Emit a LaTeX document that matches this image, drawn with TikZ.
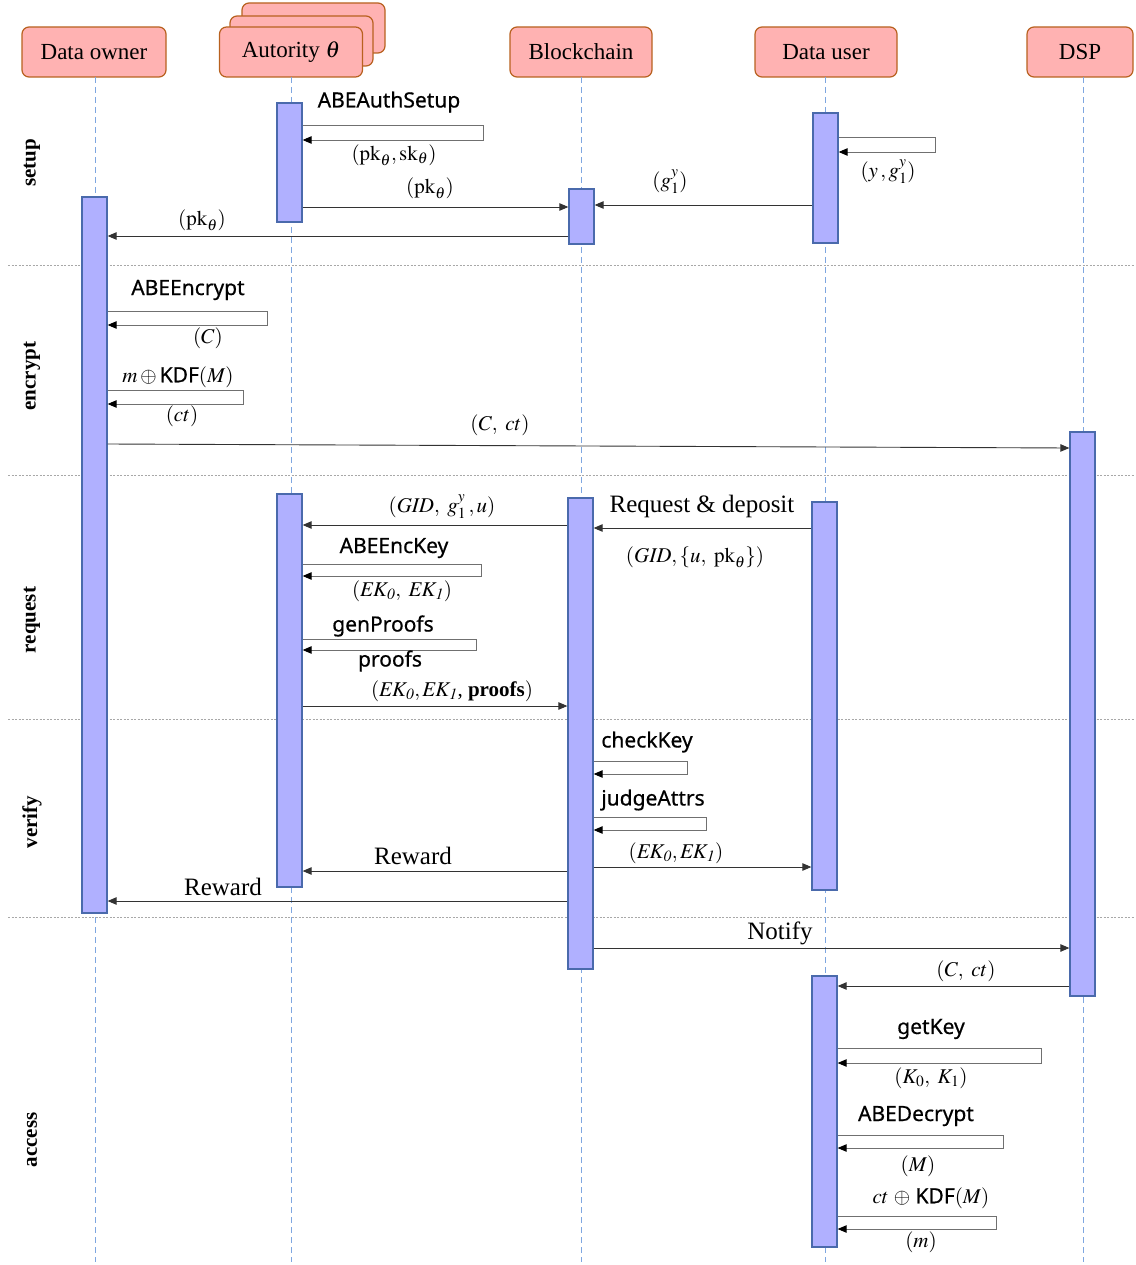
\documentclass[tikz,border=0pt]{standalone}
\usepackage{mathptmx}
\usepackage[no-math]{fontspec}
\setmainfont{Liberation Serif}
\newfontfamily\sanslbl{Noto Sans}[FakeBold=0.6]
\usetikzlibrary{arrows.meta}
\definecolor{hdrf}{HTML}{FFB2B2}
\definecolor{hdrb}{HTML}{B8611F}
\definecolor{actf}{HTML}{B0B0FF}
\definecolor{actb}{HTML}{4A6AAC}
\definecolor{lifec}{HTML}{7EA6E0}
\definecolor{msgc}{HTML}{333333}
\definecolor{loopc}{HTML}{707070}
\definecolor{sepc}{HTML}{A8A8A8}
\newcommand\kdf{{\sanslbl KDF}}
\begin{document}
\begin{tikzpicture}[x=1pt,y=-1pt,
  hdr/.style={draw=hdrb, fill=hdrf, rounded corners=7pt, line width=1.2pt,
    minimum height=50pt, inner sep=0pt, font=\fontsize{23}{27}\selectfont},
  act/.style={draw=actb, fill=actf, line width=1.3pt, minimum width=25pt, inner sep=0pt},
  life/.style={draw=lifec, line width=0.9pt, dash pattern=on 6pt off 4pt},
  sepl/.style={draw=sepc, line width=0.8pt, dash pattern=on 2pt off 1.5pt},
  msg/.style={draw=msgc, line width=0.9pt, -{Triangle[length=9pt,width=7.5pt]}},
  loopl/.style={draw=loopc, line width=0.9pt, -{Triangle[length=9pt,width=7.5pt,color=black]}},
  lbl/.style={inner sep=0pt, font=\fontsize{21}{25}\selectfont},
  slbl/.style={inner sep=0pt, font=\sanslbl\fontsize{21}{25}\selectfont},
  blbl/.style={inner sep=0pt, font=\fontsize{25}{30}\selectfont},
  phase/.style={rotate=90, inner sep=0pt, font=\bfseries\fontsize{21}{25}\selectfont}
]
\useasboundingbox (0,0) rectangle (1135,1265);

% phase separators
\draw[sepl] (8,265) -- (1135,265);
\draw[sepl] (8,475) -- (1135,475);
\draw[sepl] (8,719) -- (1135,719);
\draw[sepl] (8,917) -- (1135,917);

% phase labels
\node[phase] (pSetup) at (32,163) {setup};
\node[phase] (pEnc) at (32,376) {encrypt};
\node[phase] (pReq) at (32,620) {request};
\node[phase] (pVer) at (32,822) {verify};
\node[phase] (pAcc) at (32,1140) {access};

% headers
\node[hdr, minimum width=144pt] (hOwner) at (94,52) {Data owner};
\node[hdr, minimum width=143pt] (hAuth3) at (313.5,28) {};
\node[hdr, minimum width=143pt] (hAuth2) at (301.5,41) {};
\node[hdr, minimum width=143pt] (hAuth) at (291,52) {Autority $\theta$};
\node[hdr, minimum width=142pt] (hChain) at (581,52) {Blockchain};
\node[hdr, minimum width=142pt] (hUser) at (826,52) {Data user};
\node[hdr, minimum width=106pt] (hDSP) at (1080,52) {DSP};

% lifelines
\coordinate (eOwner) at (95,1262);
\coordinate (eAuth) at (291,1262);
\coordinate (eChain) at (581,1262);
\coordinate (eUser) at (825,1262);
\coordinate (eDSP) at (1083,1262);
\draw[life] (95,77) -- (eOwner);
\draw[life] (291,77) -- (eAuth);
\draw[life] (581,77) -- (eChain);
\draw[life] (825,77) -- (eUser);
\draw[life] (1083,77) -- (eDSP);

% activation boxes
\node[act, minimum height=716pt] (aOwner) at (94.5,555) {};
\node[act, minimum height=119pt] (aAuth1) at (289.5,162.5) {};
\node[act, minimum height=55pt] (aChain1) at (581.5,216.5) {};
\node[act, minimum height=130pt] (aUser1) at (825.5,178) {};
\node[act, minimum height=564pt] (aDSP) at (1082.5,714) {};
\node[act, minimum height=393pt] (aAuth2) at (289.5,690.5) {};
\node[act, minimum height=471pt] (aChain2) at (580.5,733.5) {};
\node[act, minimum height=388pt] (aUser2) at (824.5,696) {};
\node[act, minimum height=271pt] (aUser3) at (824.5,1111.5) {};

% ---------------- setup
\draw[loopl] (aAuth1.east |- 0,125) -- (483,125) -- (483,140) -- (aAuth1.east |- 0,140);
\node[slbl] (tAuthSetup) at (389,102) {ABEAuthSetup};
\node[lbl] (tPkSk) at (394,155) {$(\mathrm{pk}_\theta,\mathrm{sk}_\theta)$};
\draw[msg] (aAuth1.east |- 0,207) -- (aChain1.west |- 0,207);
\node[lbl] (tPk1) at (430,188) {$(\mathrm{pk}_\theta)$};
\draw[msg] (aUser1.west |- 0,205) -- (aChain1.east |- 0,205);
\node[lbl] (tG1) at (670,182) {$(g_1^y)$};
\draw[loopl] (aUser1.east |- 0,137) -- (935,137) -- (935,152) -- (aUser1.east |- 0,152);
\node[lbl] (tYG) at (888,172) {$(y\,,g_1^y)$};
\draw[msg] (aChain1.west |- 0,236) -- (aOwner.east |- 0,236);
\node[lbl] (tPk2) at (202,220) {$(\mathrm{pk}_\theta)$};

% ---------------- encrypt
\draw[loopl] (aOwner.east |- 0,311) -- (267,311) -- (267,325) -- (aOwner.east |- 0,325);
\node[slbl] (tEnc) at (188,290) {ABEEncrypt};
\node[lbl] (tC) at (208,338) {$(C)$};
\draw[loopl] (aOwner.east |- 0,390) -- (243,390) -- (243,404) -- (aOwner.east |- 0,404);
\node[lbl] (tXor1) at (178,377) {$m\oplus{}$\kdf$(M)$};
\node[lbl] (tCt) at (182,416) {$(ct)$};
\draw[msg] (aOwner.east |- 0,444) -- (aDSP.west |- 0,448);
\node[lbl] (tCct1) at (500,425) {$(C,\ ct)$};

% ---------------- request
\draw[msg] (aChain2.west |- 0,525) -- (aAuth2.east |- 0,525);
\node[lbl] (tGid1) at (442,507) {$(\mathit{GID},\ g_1^y\,,u)$};
\draw[msg] (aUser2.west |- 0,528) -- (aChain2.east |- 0,528);
\node[blbl] (tReq) at (702,506) {Request \& deposit};
\node[lbl] (tGid2) at (695,557) {$(\mathit{GID},\{u,\ \mathrm{pk}_\theta\})$};
\draw[loopl] (aAuth2.east |- 0,564) -- (481,564) -- (481,576) -- (aAuth2.east |- 0,576);
\node[slbl] (tEncKey) at (394,548) {ABEEncKey};
\node[lbl] (tEK1) at (402,591) {$(\mathit{EK_0},\ \mathit{EK_1})$};
\draw[loopl] (aAuth2.east |- 0,639) -- (476,639) -- (476,650) -- (aAuth2.east |- 0,650);
\node[slbl] (tGen) at (383,626) {genProofs};
\node[slbl] (tProofs) at (390,661) {proofs};
\draw[msg] (aAuth2.east |- 0,706) -- (aChain2.west |- 0,706);
\node[lbl] (tEKP) at (452,691) {$(\mathit{EK_0},\mathit{EK_1}$, \textbf{proofs}$)$};

% ---------------- verify
\draw[loopl] (aChain2.east |- 0,761) -- (687,761) -- (687,774) -- (aChain2.east |- 0,774);
\node[slbl] (tCheck) at (647,742) {checkKey};
\draw[loopl] (aChain2.east |- 0,817) -- (706,817) -- (706,830) -- (aChain2.east |- 0,830);
\node[slbl] (tJudge) at (653,800) {judgeAttrs};
\draw[msg] (aChain2.east |- 0,867) -- (aUser2.west |- 0,867);
\node[lbl] (tEK2) at (676,853) {$(\mathit{EK_0},\mathit{EK_1})$};
\draw[msg] (aChain2.west |- 0,871) -- (aAuth2.east |- 0,871);
\node[blbl] (tRew1) at (413,856) {Reward};
\draw[msg] (aChain2.west |- 0,901) -- (aOwner.east |- 0,901);
\node[blbl] (tRew2) at (223,887) {Reward};

% ---------------- access
\draw[msg] (aChain2.east |- 0,948) -- (aDSP.west |- 0,948);
\node[blbl] (tNotify) at (780,933) {Notify};
\draw[msg] (aDSP.west |- 0,986) -- (aUser3.east |- 0,986);
\node[lbl] (tCct2) at (966,971) {$(C,\ ct)$};
\draw[loopl] (aUser3.east |- 0,1048) -- (1041,1048) -- (1041,1063) -- (aUser3.east |- 0,1063);
\node[slbl] (tGetKey) at (931,1029) {getKey};
\node[lbl] (tK) at (931,1078) {$(K_0,\ K_1)$};
\draw[loopl] (aUser3.east |- 0,1135) -- (1003,1135) -- (1003,1148) -- (aUser3.east |- 0,1148);
\node[slbl] (tDec) at (916,1116) {ABEDecrypt};
\node[lbl] (tM) at (918,1166) {$(M)$};
\draw[loopl] (aUser3.east |- 0,1216) -- (996,1216) -- (996,1229) -- (aUser3.east |- 0,1229);
\node[lbl] (tXor2) at (931,1198) {$ct\ \oplus\ $\kdf$(M)$};
\node[lbl] (tm) at (921,1242) {$(m)$};
\end{tikzpicture}
\end{document}
